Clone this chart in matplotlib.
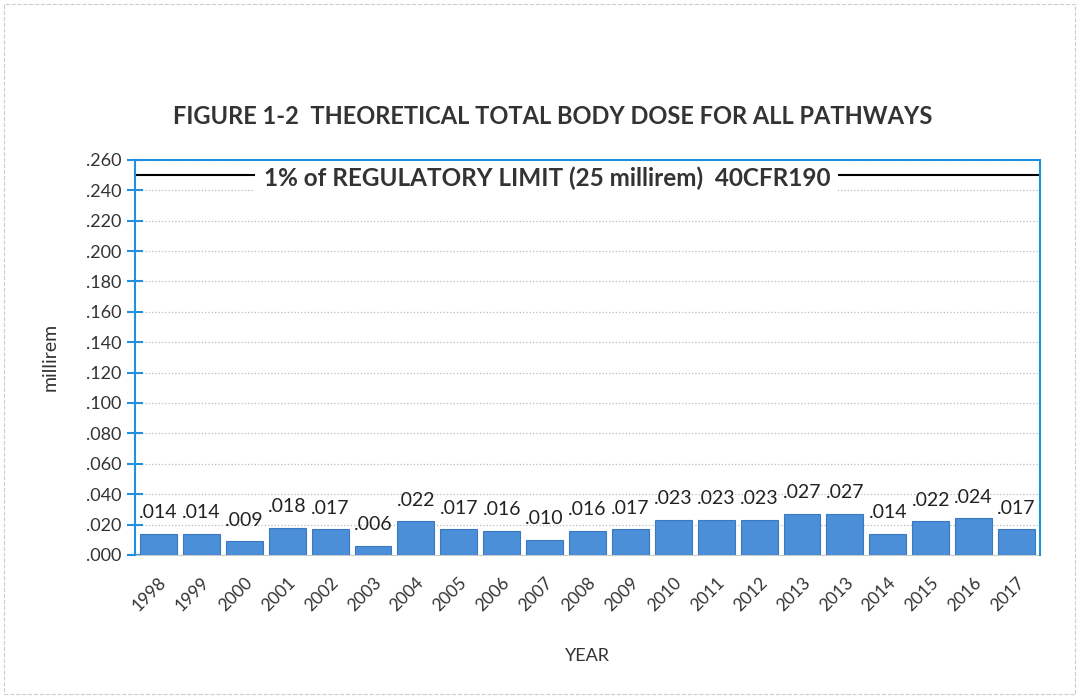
import matplotlib.pyplot as plt
from matplotlib.patches import Rectangle

years = ['1998', '1999', '2000', '2001', '2002', '2003', '2004', '2005', '2006', '2007',
         '2008', '2009', '2010', '2011', '2012', '2013', '2013', '2014', '2015', '2016', '2017']
dose = [0.014, 0.014, 0.009, 0.018, 0.017, 0.006, 0.022, 0.017, 0.016, 0.010,
        0.016, 0.017, 0.023, 0.023, 0.023, 0.027, 0.027, 0.014, 0.022, 0.024, 0.017]
limit = 0.25
yticks = [0.0, 0.02, 0.04, 0.06, 0.08, 0.10, 0.12, 0.14, 0.16, 0.18, 0.20, 0.22, 0.24, 0.26]

plt.rcParams['font.family'] = ['Lato', 'DejaVu Sans']
blue = '#1f8fe0'

fig = plt.figure(figsize=(10.79, 6.98), dpi=100)
ax = fig.add_axes([0.125, 0.205, 0.839, 0.566])

x = list(range(len(dose)))
ax.bar(x, dose, width=0.86, color='#4a8fd8', edgecolor='#3a78c0', linewidth=0.8, zorder=3)
for i, v in enumerate(dose):
    ax.annotate(('%.3f' % v)[1:], (i, v), xytext=(0, 9), textcoords='offset points',
                ha='center', va='bottom', fontsize=14, color='#222222', zorder=4)

ax.axhline(limit, color='black', lw=1.5, zorder=2, clip_on=False)
ax.text(0.455, limit - 0.002, '1% of REGULATORY LIMIT (25 millirem)  40CFR190', transform=ax.get_yaxis_transform(),
        ha='center', va='center', fontsize=17.5, fontweight='bold', color='#333333',
        bbox=dict(facecolor='white', edgecolor='none', pad=6), zorder=5)

ax.set_ylim(0, 0.26)
ax.set_xlim(-0.55, 20.55)
ax.set_yticks(yticks)
ax.set_yticklabels([('%.3f' % t)[1:] for t in yticks], fontsize=13, color='#333333')
ax.set_xticks(x)
ax.set_xticklabels(years, rotation=45, ha='right', rotation_mode='anchor', fontsize=12.5, color='#333333')
ax.tick_params(axis='y', direction='inout', length=12, width=1.5, color=blue)
ax.tick_params(axis='x', length=0, pad=14)
ax.grid(axis='y', linestyle=':', color='#bbbbbb', lw=0.9, zorder=0)
for s in ['left', 'right', 'top']:
    ax.spines[s].set_color(blue)
    ax.spines[s].set_linewidth(1.5)
    ax.spines[s].set_zorder(6)
ax.spines['bottom'].set_color('#cccccc')
ax.spines['bottom'].set_linewidth(0.8)

ax.set_ylabel('millirem', fontsize=14, color='#333333', labelpad=20)
ax.set_xlabel('YEAR', fontsize=13, color='#333333', labelpad=24)
fig.text(0.512, 0.833, 'FIGURE 1-2  THEORETICAL TOTAL BODY DOSE FOR ALL PATHWAYS',
         ha='center', va='center', fontsize=17, fontweight='bold', color='#333333')

fig.patches.append(Rectangle((0.004, 0.006), 0.992, 0.988, transform=fig.transFigure, fill=False,
                             edgecolor='#cccccc', linestyle='--', lw=0.8))

fig.savefig('out.png', dpi=100)
